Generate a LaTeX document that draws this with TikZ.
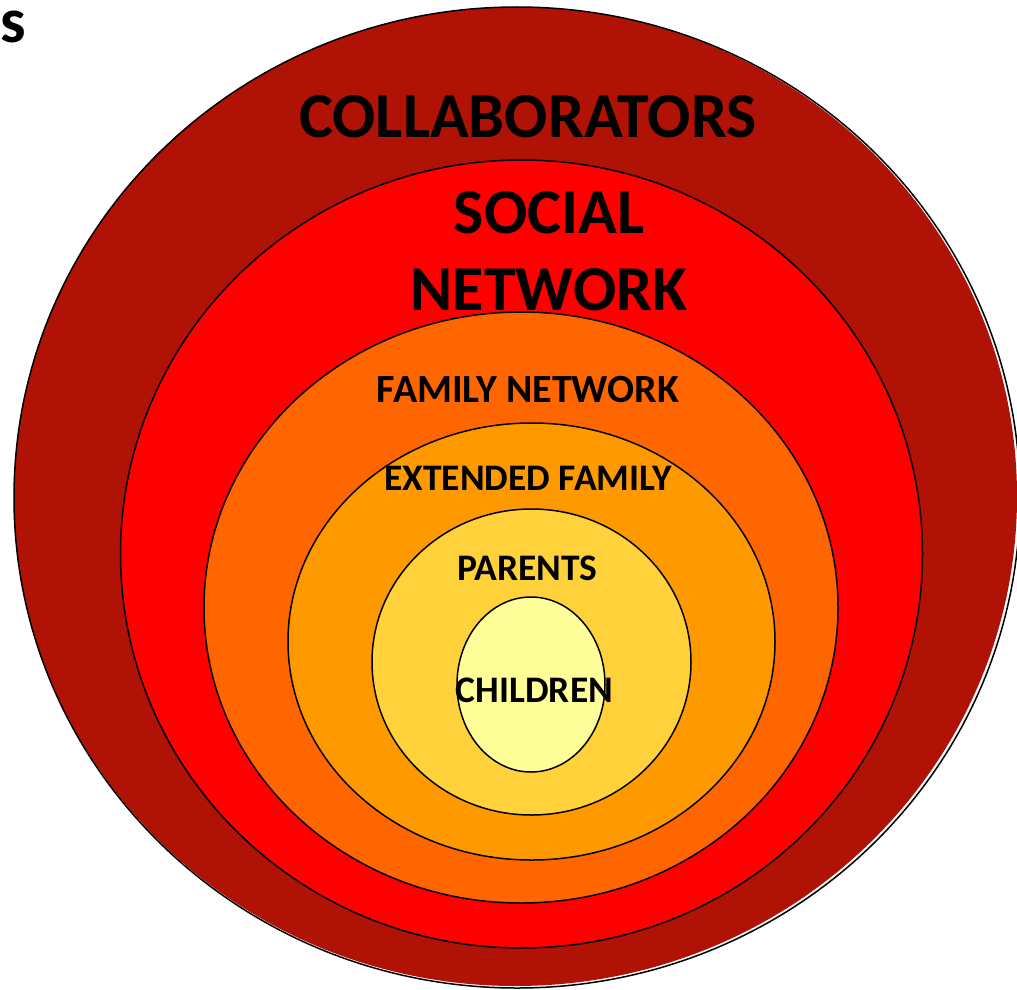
\documentclass[tikz,border=0pt]{standalone}
\usepackage{fontspec}
\setmainfont{Carlito}
\usetikzlibrary{shapes.geometric}
\definecolor{collab}{RGB}{176,18,6}
\definecolor{social}{RGB}{255,0,0}
\definecolor{famnet}{RGB}{255,102,0}
\definecolor{extfam}{RGB}{255,153,0}
\definecolor{parentc}{RGB}{255,210,60}
\definecolor{childc}{RGB}{255,255,153}
\begin{document}
\begin{tikzpicture}[x=1pt,y=-1pt,
  ring/.style={ellipse, draw=black, line width=1.5pt, inner sep=0pt, outer sep=0pt},
  ringfill/.style={ellipse, inner sep=0pt, outer sep=0pt},
  bigtext/.style={font=\bfseries\fontsize{64}{72}\selectfont, inner sep=0pt, anchor=base},
  midtext/.style={font=\bfseries\fontsize{40}{46}\selectfont, inner sep=0pt, anchor=base},
  smalltext/.style={font=\bfseries\fontsize{37.5}{44}\selectfont, inner sep=0pt, anchor=base}]
\useasboundingbox (0,0) rectangle (1017,990);
% outer ring: fill and slightly offset outline
\node[ringfill, fill=collab, minimum width=1003pt, minimum height=979pt] (collabfill) at (515.5,496.5) {};
\node[ring, minimum width=1006pt, minimum height=981pt] (collab) at (517,497.5) {};
\node[ring, fill=social, minimum width=802pt, minimum height=788pt] (social) at (521.5,554) {};
\node[ring, fill=famnet, minimum width=634pt, minimum height=591pt] (famnet) at (521,607.5) {};
\node[ring, fill=extfam, minimum width=487pt, minimum height=437pt] (extfam) at (531.5,641.5) {};
\node[ring, fill=parentc, minimum width=319pt, minimum height=306pt] (parents) at (531.5,662) {};
\node[ring, fill=childc, minimum width=148pt, minimum height=175pt] (children) at (531,684.5) {};
% labels
\node[bigtext, anchor=base west] (s) at (0,43) {s};
\node[bigtext] (tcollab) at (528,137) {COLLABORATORS};
\node[bigtext] (tsocial) at (549,233) {SOCIAL};
\node[bigtext] (tnetwork) at (549,310) {NETWORK};
\node[midtext] (tfamnet) at (528,402) {FAMILY NETWORK};
\node[smalltext] (textfam) at (528,490) {EXTENDED FAMILY};
\node[smalltext] (tparents) at (527.5,580) {PARENTS};
\node[smalltext] (tchildren) at (534.5,702) {CHILDREN};
\end{tikzpicture}
\end{document}
